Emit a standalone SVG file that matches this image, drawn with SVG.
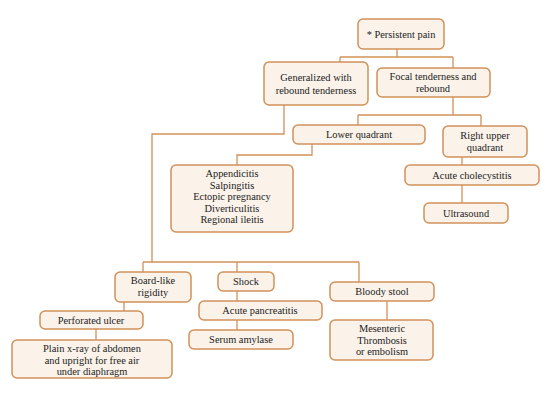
<svg xmlns="http://www.w3.org/2000/svg" width="550" height="401" viewBox="0 0 550 401">
<style>
.b{fill:#fbf3ea;stroke:#d1915a;stroke-width:1.5}
.c{fill:none;stroke:#d1915a;stroke-width:1.3}
text{font-family:"Liberation Serif","Times New Roman",serif;font-size:10.4px;fill:#222222;text-anchor:middle}
</style>
<rect width="550" height="401" fill="#ffffff"/>
<g id="connectors">
<path class="c" d="M397 49V57M340 57H453M340 57V62M453 57V68"/>
<path class="c" d="M284 105V134H152V262M143 262H359M143 262V272M237 262V272M359 262V282"/>
<path class="c" d="M453 97V115M358 115H481M358 115V125M481 115V126"/>
<path class="c" d="M312 144V155H237V165"/>
<path class="c" d="M462 157V165M462 185V203"/>
<path class="c" d="M124 302V311M96 329V340"/>
<path class="c" d="M237 291V301M237 320V330"/>
<path class="c" d="M387 301V320"/>
</g>
<g id="n_persistent"><rect class="b" x="358" y="19" width="86" height="30" rx="5"/><text x="401" y="37.5">* Persistent pain</text></g>
<g id="n_generalized"><rect class="b" x="264" y="62" width="104" height="43" rx="5"/><text x="316" y="81">Generalized with</text><text x="316" y="93.5">rebound tenderness</text></g>
<g id="n_focal"><rect class="b" x="377" y="68" width="113" height="29" rx="5"/><text x="433" y="80">Focal tenderness and</text><text x="433" y="91.5">rebound</text></g>
<g id="n_lower"><rect class="b" x="293" y="125" width="132" height="19" rx="5"/><text x="359" y="138">Lower quadrant</text></g>
<g id="n_rightupper"><rect class="b" x="443" y="126" width="84" height="31" rx="5"/><text x="485" y="139">Right upper</text><text x="485" y="150.5">quadrant</text></g>
<g id="n_append"><rect class="b" x="171" y="165" width="122" height="67" rx="5"/><text x="232" y="177">Appendicitis</text><text x="232" y="188.5">Salpingitis</text><text x="232" y="200">Ectopic pregnancy</text><text x="232" y="211.5">Diverticulitis</text><text x="232" y="222.5">Regional ileitis</text></g>
<g id="n_chole"><rect class="b" x="405" y="165" width="134" height="20" rx="5"/><text x="472" y="178.5">Acute cholecystitis</text></g>
<g id="n_ultra"><rect class="b" x="424" y="203" width="84" height="20" rx="5"/><text x="466" y="216.5">Ultrasound</text></g>
<g id="n_board"><rect class="b" x="115" y="272" width="76" height="30" rx="5"/><text x="153" y="284">Board-like</text><text x="153" y="296">rigidity</text></g>
<g id="n_shock"><rect class="b" x="218" y="272" width="56" height="19" rx="5"/><text x="246" y="285">Shock</text></g>
<g id="n_bloody"><rect class="b" x="330" y="282" width="104" height="19" rx="5"/><text x="382" y="295">Bloody stool</text></g>
<g id="n_perf"><rect class="b" x="40" y="311" width="103" height="18" rx="5"/><text x="91" y="323.5">Perforated ulcer</text></g>
<g id="n_xray"><rect class="b" x="12" y="340" width="160" height="38" rx="5"/><text x="92" y="352">Plain x-ray of abdomen</text><text x="92" y="363.5">and upright for free air</text><text x="92" y="375">under diaphragm</text></g>
<g id="n_pancreat"><rect class="b" x="199" y="301" width="123" height="19" rx="5"/><text x="260" y="314">Acute pancreatitis</text></g>
<g id="n_amylase"><rect class="b" x="189" y="330" width="104" height="19" rx="5"/><text x="241" y="343">Serum amylase</text></g>
<g id="n_mesenteric"><rect class="b" x="330" y="320" width="103" height="40" rx="5"/><text x="382" y="332">Mesenteric</text><text x="382" y="343.5">Thrombosis</text><text x="382" y="355">or embolism</text></g>
</svg>
